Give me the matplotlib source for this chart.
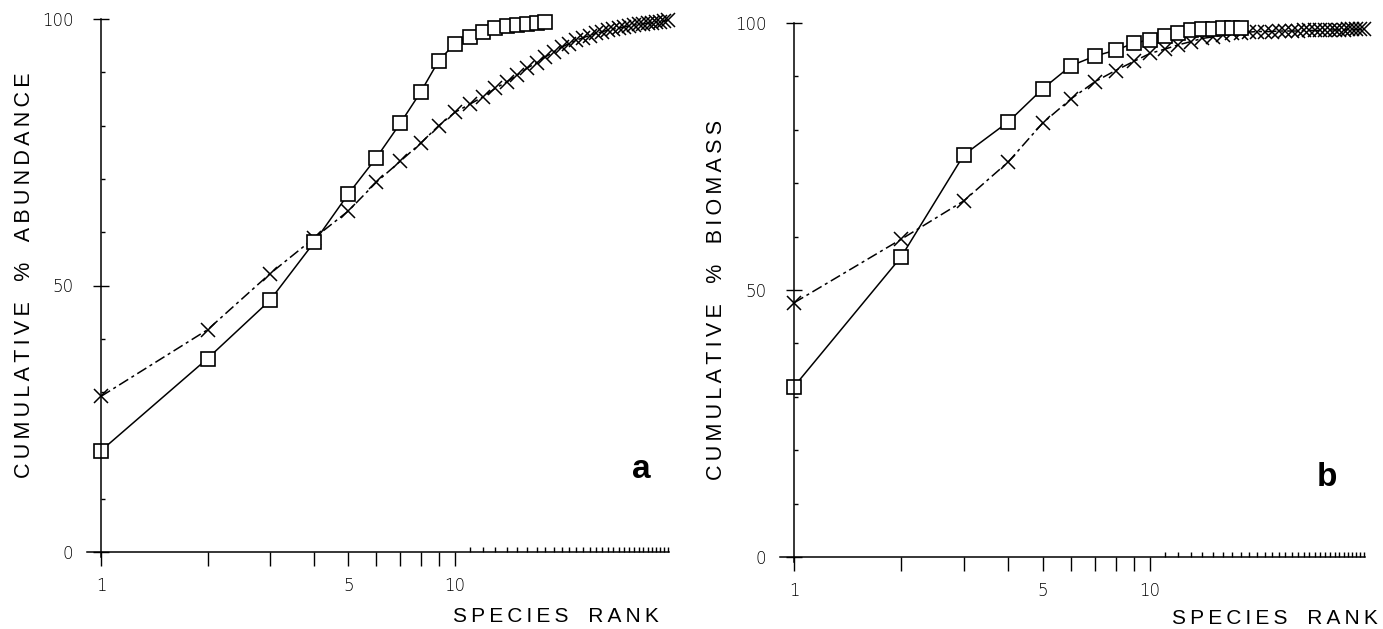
import numpy as np
import matplotlib
matplotlib.use("Agg")
import matplotlib.pyplot as plt
from matplotlib.ticker import FixedLocator, NullFormatter, FixedFormatter

# ---------------- data ----------------
rank_sq = list(range(1, 19))
rank_x = list(range(1, 41))

abund_sq = [19.0, 36.3, 47.2, 58.1, 67.2, 74.0, 80.4, 86.3, 92.2, 95.4,
            96.7, 97.6, 98.4, 98.7, 98.9, 99.1, 99.2, 99.4]
abund_x = [29.2, 41.7, 52.2, 58.9, 64.0, 69.4, 73.3, 76.7, 80.0, 82.5,
           84.0, 85.4, 87.0, 88.2, 89.5, 90.8, 91.8, 92.9, 93.8, 94.7,
           95.4, 96.0, 96.5, 96.9, 97.3, 97.6, 97.9, 98.1, 98.3, 98.5,
           98.7, 98.9, 99.0, 99.1, 99.2, 99.3, 99.4, 99.5, 99.6, 99.8]

biom_sq = [31.9, 56.2, 75.3, 81.5, 87.7, 92.0, 93.8, 94.9, 96.2, 96.9,
           97.6, 98.1, 98.6, 98.8, 98.9, 99.0, 99.0, 99.0]
biom_x = [47.6, 59.5, 66.7, 74.0, 81.3, 85.8, 89.0, 91.1, 92.8, 94.3,
          95.1, 95.9, 96.5, 97.1, 97.4, 97.8, 98.1, 98.2, 98.3, 98.4,
          98.4, 98.4, 98.5, 98.5, 98.5, 98.5, 98.6, 98.6, 98.6, 98.6,
          98.7, 98.7, 98.7, 98.7, 98.7, 98.8, 98.8, 98.8, 98.8, 98.8]

y_major = [0, 50, 100]
y_minor = [10, 20, 30, 40, 60, 70, 80, 90]
x_major = list(range(1, 11))
x_major_labels = ["1", "", "", "", "5", "", "", "", "", "10"]
x_minor = list(range(11, 41))

W, H = 1383, 629
fig = plt.figure(figsize=(W / 100, H / 100), dpi=100)

XLIM = (0.914, 40.2)
YLIM = (-1.0, 100.0)


def make_axes(x1_px, decade_px, y0_px, y100_px):
    per = (y0_px - y100_px) / 100.0
    left_px = x1_px + np.log10(XLIM[0]) * decade_px
    width_px = np.log10(XLIM[1] / XLIM[0]) * decade_px
    top_px = y100_px - (YLIM[1] - 100) * per
    bottom_px = y0_px - YLIM[0] * per
    ax = fig.add_axes([left_px / W, 1 - bottom_px / H,
                       width_px / W, (bottom_px - top_px) / H])
    ax.set_xscale("log")
    ax.set_xlim(*XLIM)
    ax.set_ylim(*YLIM)
    return ax


def spaced(s):
    return "\u2009".join(s).replace("\u2009 \u2009", "\u2009  \u2009")


def style(ax, ylabel, letter, ylab_xy, xlab_xy, letter_xy):
    for s in ("top", "right"):
        ax.spines[s].set_visible(False)
    ax.spines["left"].set_position(("data", 1))
    ax.spines["bottom"].set_position(("data", 0))
    for s in ("left", "bottom"):
        ax.spines[s].set_linewidth(1.1)
    ax.xaxis.set_major_locator(FixedLocator(x_major))
    ax.xaxis.set_major_formatter(FixedFormatter(x_major_labels))
    ax.xaxis.set_minor_locator(FixedLocator(x_minor))
    ax.xaxis.set_minor_formatter(NullFormatter())
    ax.yaxis.set_major_locator(FixedLocator(y_major))
    ax.yaxis.set_minor_locator(FixedLocator(y_minor))
    ax.yaxis.set_minor_formatter(NullFormatter())
    ax.tick_params(axis="x", which="major", direction="out", length=10,
                   width=1.0, pad=8, labelsize=12)
    ax.tick_params(axis="x", which="minor", direction="in", length=3.5,
                   width=1.0)
    ax.tick_params(axis="y", which="major", direction="inout", length=12,
                   width=1.0, pad=14, labelsize=12)
    ax.tick_params(axis="y", which="minor", direction="in", length=3,
                   width=1.0)
    for lab in ax.get_xticklabels() + ax.get_yticklabels():
        lab.set_fontfamily(["DejaVu Sans"])
        lab.set_fontweight("light")
    fig.text(ylab_xy[0] / W, 1 - ylab_xy[1] / H, spaced(ylabel),
             rotation=90, ha="center", va="center", fontsize=15.5,
             family=["Liberation Sans", "DejaVu Sans"])
    fig.text(xlab_xy[0] / W, 1 - xlab_xy[1] / H, spaced("SPECIES RANK"),
             ha="center", va="center", fontsize=15,
             family=["Liberation Sans", "DejaVu Sans"])
    fig.text(letter_xy[0] / W, 1 - letter_xy[1] / H, letter,
             ha="center", va="center", fontsize=24, fontweight="bold",
             family=["Liberation Sans", "DejaVu Sans"])


def draw(ax, sq, xx):
    ax.plot(rank_x, xx, color="black", lw=1.1, linestyle=(0, (7, 2.5, 2, 2.5)),
            marker="x", markersize=10, markeredgewidth=1.1, clip_on=False)
    ax.plot(rank_sq, sq, color="black", lw=1.1, linestyle="-",
            marker="s", markersize=10, markerfacecolor="white",
            markeredgecolor="black", markeredgewidth=1.2, clip_on=False)


ax1 = make_axes(101, 354, 552, 19)
draw(ax1, abund_sq, abund_x)
style(ax1, "CUMULATIVE % ABUNDANCE", "a", (25, 275), (556, 616), (641, 470))

ax2 = make_axes(794, 356, 557, 23)
draw(ax2, biom_sq, biom_x)
style(ax2, "CUMULATIVE % BIOMASS", "b", (717, 300), (1275, 618), (1327, 478))

fig.savefig("out.png", dpi=100, facecolor="white")
